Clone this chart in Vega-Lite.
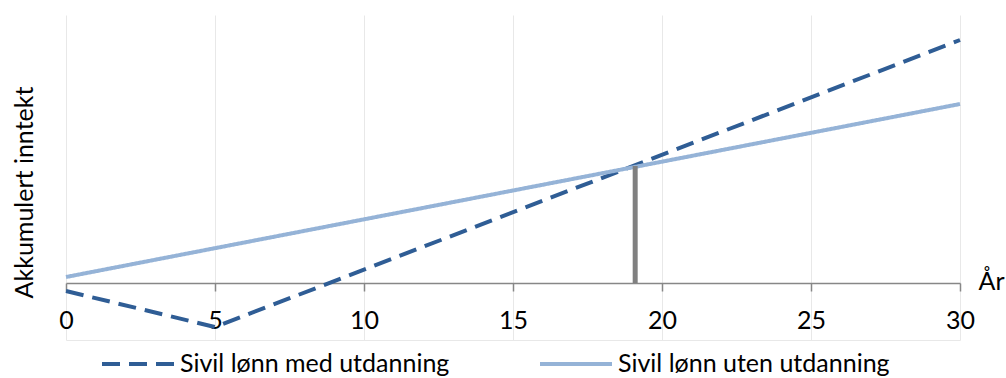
{
  "$schema": "https://vega.github.io/schema/vega-lite/v6.json",
  "width": 894,
  "height": 325,
  "autosize": {"type": "none"},
  "padding": {"left": 66, "top": 15, "right": 46, "bottom": 38},
  "background": "white",
  "config": {
    "font": "Lato",
    "view": {"stroke": null}
  },
  "datasets": {
    "lines": [
      {"serie": "Sivil lønn med utdanning", "aar": 0, "verdi": -8},
      {"serie": "Sivil lønn med utdanning", "aar": 5, "verdi": -44},
      {"serie": "Sivil lønn med utdanning", "aar": 30, "verdi": 243},
      {"serie": "Sivil lønn uten utdanning", "aar": 0, "verdi": 6},
      {"serie": "Sivil lønn uten utdanning", "aar": 30, "verdi": 179}
    ],
    "marker": [
      {"aar": 19.1, "fra": 0, "til": 117}
    ]
  },
  "layer": [
    {
      "data": {"name": "lines"},
      "mark": {"type": "line", "strokeWidth": 4, "strokeCap": "butt"},
      "encoding": {
        "x": {
          "field": "aar", "type": "quantitative",
          "scale": {"domain": [0, 30], "nice": false, "zero": false},
          "axis": {
            "orient": "bottom",
            "offset": -57,
            "values": [0, 5, 10, 15, 20, 25, 30],
            "grid": true,
            "gridColor": "#E8E8E8",
            "gridWidth": 1,
            "domainColor": "#878787",
            "domainWidth": 1.5,
            "tickColor": "#878787",
            "tickSize": 8,
            "tickWidth": 1.5,
            "labelFontSize": 25,
            "labelColor": "#000000",
            "labelPadding": 17,
            "labelFlush": false,
            "title": "År",
            "titleFontSize": 25,
            "titleFontWeight": "normal",
            "titleColor": "#000000",
            "titleX": 912,
            "titleY": -2,
            "titleAlign": "left",
            "titleBaseline": "middle",
            "titleAngle": 0
          }
        },
        "y": {
          "field": "verdi", "type": "quantitative",
          "scale": {"domain": [-57, 268], "nice": false, "zero": false},
          "axis": {
            "orient": "left",
            "values": [-57],
            "labels": false,
            "ticks": false,
            "domain": false,
            "grid": true,
            "gridColor": "#E8E8E8",
            "title": "Akkumulert inntekt",
            "titleFontSize": 25,
            "titleFontWeight": "normal",
            "titleColor": "#000000",
            "titleX": -42,
            "titleY": 177,
            "titleAngle": -90,
            "titleAlign": "center",
            "titleBaseline": "middle"
          }
        },
        "color": {
          "field": "serie", "type": "nominal",
          "scale": {
            "domain": ["Sivil lønn med utdanning", "Sivil lønn uten utdanning"],
            "range": ["#2F5D95", "#95B3D7"]
          },
          "legend": {
            "title": null,
            "orient": "none",
            "direction": "horizontal",
            "legendX": 34,
            "legendY": 311,
            "symbolType": "stroke",
            "symbolSize": 5184,
            "symbolStrokeWidth": 4,
            "labelFontSize": 25,
            "labelColor": "#000000",
            "labelOffset": 4,
            "columnPadding": 82,
            "labelLimit": 400
          }
        },
        "strokeDash": {
          "field": "serie", "type": "nominal",
          "scale": {
            "domain": ["Sivil lønn med utdanning", "Sivil lønn uten utdanning"],
            "range": [[18, 9], [1, 0]]
          },
          "legend": null
        }
      }
    },
    {
      "data": {"name": "marker"},
      "mark": {"type": "rule", "strokeWidth": 5, "color": "#808080"},
      "encoding": {
        "x": {"field": "aar", "type": "quantitative"},
        "y": {"field": "fra", "type": "quantitative"},
        "y2": {"field": "til"}
      }
    }
  ]
}
